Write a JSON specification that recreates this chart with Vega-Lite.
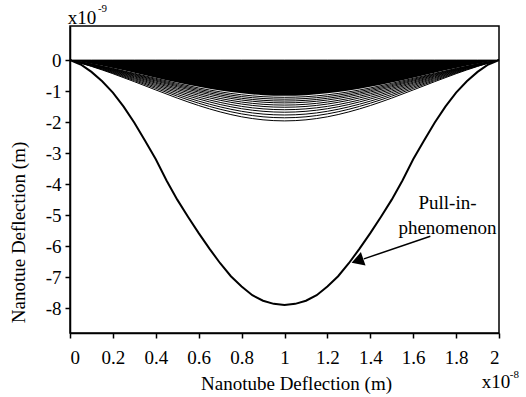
{
  "$schema": "https://vega.github.io/schema/vega-lite/v6.json",
  "width": 429,
  "height": 307,
  "autosize": {"type": "none"},
  "padding": {"left": 70, "top": 26, "right": 27, "bottom": 64},
  "background": "white",
  "config": {
    "font": "Liberation Serif",
    "view": {"stroke": "black", "strokeWidth": 1.5},
    "axis": {
      "grid": false,
      "domainColor": "black",
      "domainWidth": 1.5,
      "tickColor": "black",
      "tickWidth": 1.5,
      "tickSize": 5,
      "labelColor": "black",
      "titleColor": "black",
      "titleFontWeight": "normal"
    }
  },
  "datasets": {
    "family": [
      {"x": 0, "s0": 0, "a": 0, "s1": 0, "s2": 0, "s3": 0, "s4": 0, "s5": 0, "s6": 0, "s7": 0, "s8": 0, "s9": 0, "s10": 0, "s11": 0},
      {"x": 0.1, "s0": 0, "a": -0.119, "s1": -0.124, "s2": -0.131, "s3": -0.137, "s4": -0.143, "s5": -0.150, "s6": -0.157, "s7": -0.166, "s8": -0.174, "s9": -0.183, "s10": -0.193, "s11": -0.203},
      {"x": 0.2, "s0": 0, "a": -0.257, "s1": -0.268, "s2": -0.282, "s3": -0.295, "s4": -0.309, "s5": -0.324, "s6": -0.340, "s7": -0.358, "s8": -0.376, "s9": -0.396, "s10": -0.416, "s11": -0.438},
      {"x": 0.3, "s0": 0, "a": -0.408, "s1": -0.426, "s2": -0.447, "s3": -0.468, "s4": -0.490, "s5": -0.514, "s6": -0.539, "s7": -0.568, "s8": -0.596, "s9": -0.628, "s10": -0.660, "s11": -0.695},
      {"x": 0.4, "s0": 0, "a": -0.565, "s1": -0.589, "s2": -0.619, "s3": -0.648, "s4": -0.677, "s5": -0.712, "s6": -0.746, "s7": -0.785, "s8": -0.825, "s9": -0.869, "s10": -0.913, "s11": -0.962},
      {"x": 0.5, "s0": 0, "a": -0.718, "s1": -0.749, "s2": -0.787, "s3": -0.824, "s4": -0.862, "s5": -0.905, "s6": -0.949, "s7": -0.999, "s8": -1.049, "s9": -1.105, "s10": -1.161, "s11": -1.224},
      {"x": 0.6, "s0": 0, "a": -0.859, "s1": -0.897, "s2": -0.941, "s3": -0.986, "s4": -1.031, "s5": -1.083, "s6": -1.136, "s7": -1.196, "s8": -1.255, "s9": -1.323, "s10": -1.390, "s11": -1.465},
      {"x": 0.7, "s0": 0, "a": -0.980, "s1": -1.023, "s2": -1.074, "s3": -1.125, "s4": -1.176, "s5": -1.236, "s6": -1.295, "s7": -1.364, "s8": -1.432, "s9": -1.508, "s10": -1.585, "s11": -1.670},
      {"x": 0.8, "s0": 0, "a": -1.072, "s1": -1.119, "s2": -1.175, "s3": -1.231, "s4": -1.287, "s5": -1.352, "s6": -1.417, "s7": -1.492, "s8": -1.567, "s9": -1.651, "s10": -1.734, "s11": -1.828},
      {"x": 0.9, "s0": 0, "a": -1.130, "s1": -1.179, "s2": -1.238, "s3": -1.297, "s4": -1.356, "s5": -1.425, "s6": -1.494, "s7": -1.572, "s8": -1.651, "s9": -1.740, "s10": -1.828, "s11": -1.926},
      {"x": 1.0, "s0": 0, "a": -1.15, "s1": -1.2, "s2": -1.26, "s3": -1.32, "s4": -1.38, "s5": -1.45, "s6": -1.52, "s7": -1.6, "s8": -1.68, "s9": -1.77, "s10": -1.86, "s11": -1.96},
      {"x": 1.1, "s0": 0, "a": -1.130, "s1": -1.179, "s2": -1.238, "s3": -1.297, "s4": -1.356, "s5": -1.425, "s6": -1.494, "s7": -1.572, "s8": -1.651, "s9": -1.740, "s10": -1.828, "s11": -1.926},
      {"x": 1.2, "s0": 0, "a": -1.072, "s1": -1.119, "s2": -1.175, "s3": -1.231, "s4": -1.287, "s5": -1.352, "s6": -1.417, "s7": -1.492, "s8": -1.567, "s9": -1.651, "s10": -1.734, "s11": -1.828},
      {"x": 1.3, "s0": 0, "a": -0.980, "s1": -1.023, "s2": -1.074, "s3": -1.125, "s4": -1.176, "s5": -1.236, "s6": -1.295, "s7": -1.364, "s8": -1.432, "s9": -1.508, "s10": -1.585, "s11": -1.670},
      {"x": 1.4, "s0": 0, "a": -0.859, "s1": -0.897, "s2": -0.941, "s3": -0.986, "s4": -1.031, "s5": -1.083, "s6": -1.136, "s7": -1.196, "s8": -1.255, "s9": -1.323, "s10": -1.390, "s11": -1.465},
      {"x": 1.5, "s0": 0, "a": -0.718, "s1": -0.749, "s2": -0.787, "s3": -0.824, "s4": -0.862, "s5": -0.905, "s6": -0.949, "s7": -0.999, "s8": -1.049, "s9": -1.105, "s10": -1.161, "s11": -1.224},
      {"x": 1.6, "s0": 0, "a": -0.565, "s1": -0.589, "s2": -0.619, "s3": -0.648, "s4": -0.677, "s5": -0.712, "s6": -0.746, "s7": -0.785, "s8": -0.825, "s9": -0.869, "s10": -0.913, "s11": -0.962},
      {"x": 1.7, "s0": 0, "a": -0.408, "s1": -0.426, "s2": -0.447, "s3": -0.468, "s4": -0.490, "s5": -0.514, "s6": -0.539, "s7": -0.568, "s8": -0.596, "s9": -0.628, "s10": -0.660, "s11": -0.695},
      {"x": 1.8, "s0": 0, "a": -0.257, "s1": -0.268, "s2": -0.282, "s3": -0.295, "s4": -0.309, "s5": -0.324, "s6": -0.340, "s7": -0.358, "s8": -0.376, "s9": -0.396, "s10": -0.416, "s11": -0.438},
      {"x": 1.9, "s0": 0, "a": -0.119, "s1": -0.124, "s2": -0.131, "s3": -0.137, "s4": -0.143, "s5": -0.150, "s6": -0.157, "s7": -0.166, "s8": -0.174, "s9": -0.183, "s10": -0.193, "s11": -0.203},
      {"x": 2.0, "s0": 0, "a": 0, "s1": 0, "s2": 0, "s3": 0, "s4": 0, "s5": 0, "s6": 0, "s7": 0, "s8": 0, "s9": 0, "s10": 0, "s11": 0}
    ],
    "pull": [
      {"x": 0, "y": 0}, {"x": 0.05, "y": -0.14}, {"x": 0.1, "y": -0.38}, {"x": 0.15, "y": -0.68},
      {"x": 0.2, "y": -1.05}, {"x": 0.25, "y": -1.5}, {"x": 0.3, "y": -2.02}, {"x": 0.35, "y": -2.6},
      {"x": 0.4, "y": -3.2}, {"x": 0.45, "y": -3.88}, {"x": 0.5, "y": -4.5}, {"x": 0.55, "y": -5.05},
      {"x": 0.6, "y": -5.58}, {"x": 0.65, "y": -6.08}, {"x": 0.7, "y": -6.55}, {"x": 0.75, "y": -6.97},
      {"x": 0.8, "y": -7.3}, {"x": 0.85, "y": -7.58}, {"x": 0.9, "y": -7.76}, {"x": 0.95, "y": -7.86},
      {"x": 1.0, "y": -7.9},
      {"x": 1.05, "y": -7.86}, {"x": 1.1, "y": -7.76}, {"x": 1.15, "y": -7.58}, {"x": 1.2, "y": -7.3},
      {"x": 1.25, "y": -6.97}, {"x": 1.3, "y": -6.55}, {"x": 1.35, "y": -6.08}, {"x": 1.4, "y": -5.58},
      {"x": 1.45, "y": -5.05}, {"x": 1.5, "y": -4.5}, {"x": 1.55, "y": -3.88}, {"x": 1.6, "y": -3.2},
      {"x": 1.65, "y": -2.6}, {"x": 1.7, "y": -2.02}, {"x": 1.75, "y": -1.5}, {"x": 1.8, "y": -1.05},
      {"x": 1.85, "y": -0.68}, {"x": 1.9, "y": -0.38}, {"x": 1.95, "y": -0.14}, {"x": 2.0, "y": 0}
    ],
    "arrow": [{"x": 1.68, "y": -5.68, "x2": 1.37, "y2": -6.41}],
    "head": [{"x": 1.34, "y": -6.47}],
    "note": [
      {"x": 1.76, "y": -4.6, "t": "Pull-in-"},
      {"x": 1.76, "y": -5.4, "t": "phenomenon"}
    ],
    "mult": [
      {"x": -0.01, "y": 1.165, "t": "x10"},
      {"x": 1.92, "y": -10.58, "t": "x10"}
    ],
    "sup": [
      {"x": 0.13, "y": 1.55, "t": "-9"},
      {"x": 2.05, "y": -10.25, "t": "-8"}
    ]
  },
  "encoding": {
    "x": {
      "type": "quantitative",
      "scale": {"domain": [0, 2], "nice": false, "zero": false},
      "axis": {
        "title": "Nanotube Deflection (m)",
        "values": [0, 0.2, 0.4, 0.6, 0.8, 1, 1.2, 1.4, 1.6, 1.8, 2],
        "labelExpr": "toString(datum.value)",
        "labelOverlap": false,
        "labelFont": "Liberation Serif",
        "labelFontSize": 19,
        "titleFont": "Liberation Serif",
        "titleFontSize": 19,
        "labelPadding": 10,
        "titleX": 226,
        "titleY": 56,
        "titleBaseline": "alphabetic"
      }
    },
    "y": {
      "type": "quantitative",
      "scale": {"domain": [-8.8, 1.1], "nice": false, "zero": false},
      "axis": {
        "title": "Nanotue Deflection (m)",
        "values": [-8, -7, -6, -5, -4, -3, -2, -1, 0],
        "labelExpr": "toString(datum.value)",
        "labelOverlap": false,
        "labelFont": "Liberation Serif",
        "labelFontSize": 19,
        "titleFont": "Liberation Serif",
        "titleFontSize": 19,
        "labelPadding": 4,
        "titleX": -52,
        "titleY": 206,
        "titleAngle": -90,
        "titleAlign": "center",
        "titleBaseline": "middle"
      }
    }
  },
  "layer": [
    {
      "data": {"name": "family"},
      "mark": {"type": "area", "color": "black", "interpolate": "monotone"},
      "encoding": {
        "x": {"field": "x", "type": "quantitative"},
        "y": {"field": "a", "type": "quantitative"},
        "y2": {"datum": 0}
      }
    },
    {
      "data": {"name": "family"},
      "transform": [{"fold": ["s0", "s1", "s2", "s3", "s4", "s5", "s6", "s7", "s8", "s9", "s10", "s11"], "as": ["k", "v"]}],
      "mark": {"type": "line", "color": "black", "strokeWidth": 1, "interpolate": "monotone"},
      "encoding": {
        "x": {"field": "x", "type": "quantitative"},
        "y": {"field": "v", "type": "quantitative"},
        "detail": {"field": "k", "type": "nominal"}
      }
    },
    {
      "data": {"name": "pull"},
      "mark": {"type": "line", "color": "black", "strokeWidth": 2},
      "encoding": {
        "x": {"field": "x", "type": "quantitative"},
        "y": {"field": "y", "type": "quantitative"}
      }
    },
    {
      "data": {"name": "arrow"},
      "mark": {"type": "rule", "color": "black", "strokeWidth": 1.5},
      "encoding": {
        "x": {"field": "x", "type": "quantitative"},
        "y": {"field": "y", "type": "quantitative"},
        "x2": {"field": "x2"},
        "y2": {"field": "y2"}
      }
    },
    {
      "data": {"name": "head"},
      "mark": {"type": "point", "shape": "triangle-up", "filled": true, "color": "black", "opacity": 1, "size": 200, "angle": 251},
      "encoding": {
        "x": {"field": "x", "type": "quantitative"},
        "y": {"field": "y", "type": "quantitative"}
      }
    },
    {
      "data": {"name": "note"},
      "mark": {"type": "text", "font": "Liberation Serif", "fontSize": 19, "color": "black", "align": "center", "baseline": "middle"},
      "encoding": {
        "x": {"field": "x", "type": "quantitative"},
        "y": {"field": "y", "type": "quantitative"},
        "text": {"field": "t"}
      }
    },
    {
      "data": {"name": "mult"},
      "mark": {"type": "text", "font": "Liberation Serif", "fontSize": 19, "color": "black", "align": "left", "baseline": "alphabetic", "clip": false},
      "encoding": {
        "x": {"field": "x", "type": "quantitative"},
        "y": {"field": "y", "type": "quantitative"},
        "text": {"field": "t"}
      }
    },
    {
      "data": {"name": "sup"},
      "mark": {"type": "text", "font": "Liberation Serif", "fontSize": 11, "color": "black", "align": "left", "baseline": "alphabetic", "clip": false},
      "encoding": {
        "x": {"field": "x", "type": "quantitative"},
        "y": {"field": "y", "type": "quantitative"},
        "text": {"field": "t"}
      }
    }
  ]
}
